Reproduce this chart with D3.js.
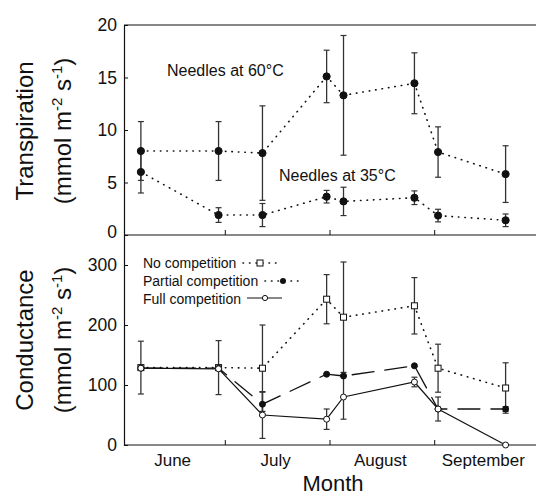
<!DOCTYPE html>
<html>
<head>
<meta charset="utf-8">
<script src="https://cdn.jsdelivr.net/npm/d3@7"></script>
<style>
  body { margin: 0; background: #fff; }
  text { font-family: "Liberation Sans", Arial, sans-serif; fill: #111; }
</style>
</head>
<body>
<div id="chart"></div>
<script>
// sampling dates (2000 used only as a dummy year)
var sampleDates = ["2000-06-06", "2000-06-29", "2000-07-12", "2000-07-31", "2000-08-05", "2000-08-26", "2000-09-02", "2000-09-22"];
var monthNames = ["June", "July", "August", "September"];
var monthStarts = ["2000-06-01", "2000-07-01", "2000-08-01", "2000-09-01", "2000-10-01"];

// transpiration (top panel)
var trans60 = [8.0, 8.0, 7.8, 15.1, 13.3, 14.45, 7.9, 5.8];
var trans60Err = [2.8, 2.8, 4.5, 2.5, 5.7, 2.9, 2.4, 2.7];
var trans35 = [6.0, 1.9, 1.9, 3.65, 3.2, 3.55, 1.85, 1.4];
var trans35Err = [2.0, 0.7, 1.1, 0.6, 1.35, 0.65, 0.6, 0.6];
var transTicks = [0, 5, 10, 15, 20];

// conductance (bottom panel)
var condNone = [129, 129, 128, 243, 213, 232, 128, 95];
var condNoneErr = [44, 45, 72, 41, 92, 47, 40, 42];
var condPartial = [128, 128, 68, 118, 115, 132, 60, 60];
var condPartialErr = [0, 0, 20, 0, 0, 0, 20, 4];
var condFull = [128, 127, 50, 43, 80, 105, 60, 0];
var condFullErr = [0, 0, 39, 17, 37, 8, 0, 0];
var condTicks = [0, 100, 200, 300];

var W = 536, H = 499;
var left = 124, right = 536;
var topY = 25, midY = 235, botY = 445;

var parse = d3.timeParse("%Y-%m-%d");
var dates = sampleDates.map(parse);

var svg = d3.select("#chart").append("svg")
  .attr("width", W)
  .attr("height", H);

var x = d3.scaleTime()
  .domain([parse(monthStarts[0]), parse(monthStarts[4])])
  .range([left, right]);
var yT = d3.scaleLinear().domain([0, 20]).range([midY, topY]);
var yC = d3.scaleLinear().domain([0, 350]).range([botY, midY]);

// frame lines
[topY, midY, botY].forEach(function(yy) {
  svg.append("line").attr("x1", left).attr("x2", right).attr("y1", yy).attr("y2", yy)
    .attr("stroke", "#111").attr("stroke-width", 1.2);
});

// y axes
function yAxis(scale, ticks) {
  var g = svg.append("g")
    .attr("transform", `translate(${left},0)`)
    .call(d3.axisLeft(scale).tickValues(ticks).tickSizeInner(-4).tickSizeOuter(0).tickPadding(7));
  g.select(".domain").attr("stroke", "#111").attr("stroke-width", 1.2);
  g.selectAll(".tick line").attr("stroke", "#111");
  g.selectAll(".tick text").style("font-size", "17.5px").attr("fill", "#111");
  return g;
}
var gT = yAxis(yT, transTicks);
gT.selectAll(".tick text").filter(d => d === 0).attr("dy", "0.15em");
yAxis(yC, condTicks);

// month ticks on both panels
var boundaries = monthStarts.slice(1, 4).map(parse);
[midY, botY].forEach(function(base) {
  svg.selectAll(null).data(boundaries).enter().append("line")
    .attr("x1", d => x(d)).attr("x2", d => x(d))
    .attr("y1", base).attr("y2", base - 5)
    .attr("stroke", "#111");
});

// month labels
var monthMids = monthNames.map(function(m, i) {
  var a = parse(monthStarts[i]), b = parse(monthStarts[i + 1]);
  return new Date((a.getTime() + b.getTime()) / 2);
});
svg.selectAll("text.month").data(monthNames).enter().append("text")
  .attr("class", "month")
  .attr("x", (d, i) => x(monthMids[i]) - 2)
  .attr("y", 466)
  .attr("text-anchor", "middle")
  .style("font-size", "17px")
  .text(d => d);

svg.append("text")
  .attr("x", 333).attr("y", 491)
  .attr("text-anchor", "middle")
  .style("font-size", "22px")
  .text("Month");

// axis titles
function yTitle(cy, name) {
  svg.append("text")
    .attr("transform", `translate(33,${cy}) rotate(-90)`)
    .attr("text-anchor", "middle")
    .style("font-size", "24px")
    .text(name);
  var u = svg.append("text")
    .attr("transform", `translate(71,${cy}) rotate(-90)`)
    .attr("text-anchor", "middle")
    .style("font-size", "24px");
  u.append("tspan").text("(mmol m");
  u.append("tspan").attr("dy", -9).style("font-size", "15px").text("-2");
  u.append("tspan").attr("dy", 9).text(" s");
  u.append("tspan").attr("dy", -9).style("font-size", "15px").text("-1");
  u.append("tspan").attr("dy", 9).text(")");
}
yTitle(131, "Transpiration");
yTitle(340, "Conductance");

// series drawing
function errorBars(vals, errs, y, color) {
  var g = svg.append("g");
  vals.forEach(function(v, i) {
    if (!errs[i]) return;
    var cx = x(dates[i]);
    var y1 = y(v + errs[i]), y2 = y(Math.max(0, v - errs[i]));
    g.append("line").attr("x1", cx).attr("x2", cx).attr("y1", y1).attr("y2", y2)
      .attr("stroke", color).attr("stroke-width", 1.3);
    [y1, y2].forEach(function(yy) {
      g.append("line").attr("x1", cx - 3).attr("x2", cx + 3).attr("y1", yy).attr("y2", yy)
        .attr("stroke", color).attr("stroke-width", 1.2);
    });
  });
}
function seriesLine(vals, y, dash, width) {
  var line = d3.line().x((d, i) => x(dates[i])).y(d => y(d));
  svg.append("path").datum(vals)
    .attr("d", line)
    .attr("fill", "none")
    .attr("stroke", "#111")
    .attr("stroke-width", width)
    .attr("stroke-linecap", "round")
    .attr("stroke-dasharray", dash);
}
function dots(vals, y, r, fill) {
  svg.selectAll(null).data(vals).enter().append("circle")
    .attr("cx", (d, i) => x(dates[i]))
    .attr("cy", d => y(d))
    .attr("r", r)
    .attr("fill", fill)
    .attr("stroke", "#111")
    .attr("stroke-width", 1);
}
function squares(vals, y, s) {
  svg.selectAll(null).data(vals).enter().append("rect")
    .attr("x", (d, i) => x(dates[i]) - s / 2)
    .attr("y", d => y(d) - s / 2)
    .attr("width", s).attr("height", s)
    .attr("fill", "#fff")
    .attr("stroke", "#111")
    .attr("stroke-width", 1);
}

// top panel
errorBars(trans60, trans60Err, yT, "#333");
errorBars(trans35, trans35Err, yT, "#333");
seriesLine(trans60, yT, "0.5,6", 1.6);
seriesLine(trans35, yT, "0.5,6", 1.6);
dots(trans60, yT, 3.6, "#111");
dots(trans35, yT, 3.6, "#111");

svg.append("text").attr("x", 167).attr("y", 76).style("font-size", "16px").text("Needles at 60°C");
svg.append("text").attr("x", 279).attr("y", 181).style("font-size", "16px").text("Needles at 35°C");

// bottom panel
errorBars(condNone, condNoneErr, yC, "#333");
errorBars(condPartial, condPartialErr, yC, "#333");
errorBars(condFull, condFullErr, yC, "#333");
seriesLine(condNone, yC, "0.5,6", 1.6);
seriesLine(condPartial, yC, "22,11", 1.3);
seriesLine(condFull, yC, null, 1.2);
squares(condNone, yC, 6);
dots(condPartial, yC, 3, "#111");
dots(condFull, yC, 3, "#fff");

// legend
var legend = [
  {label: "No competition", y: 263},
  {label: "Partial competition", y: 281},
  {label: "Full competition", y: 299}
];
svg.selectAll("text.leg").data(legend).enter().append("text")
  .attr("class", "leg")
  .attr("x", 143).attr("y", d => d.y + 5)
  .style("font-size", "14px")
  .text(d => d.label);
// no competition key
svg.append("line").attr("x1", 243).attr("x2", 276).attr("y1", 263).attr("y2", 263)
  .attr("stroke", "#111").attr("stroke-width", 1.6).attr("stroke-linecap", "round").attr("stroke-dasharray", "0.5,6");
svg.append("rect").attr("x", 257).attr("y", 260).attr("width", 6).attr("height", 6)
  .attr("fill", "#fff").attr("stroke", "#111");
// partial competition key
svg.append("line").attr("x1", 265).attr("x2", 298).attr("y1", 281).attr("y2", 281)
  .attr("stroke", "#111").attr("stroke-width", 1.6).attr("stroke-linecap", "round").attr("stroke-dasharray", "0.5,6");
svg.append("circle").attr("cx", 283).attr("cy", 281).attr("r", 3).attr("fill", "#111");
// full competition key
svg.append("line").attr("x1", 247).attr("x2", 282).attr("y1", 298).attr("y2", 298)
  .attr("stroke", "#111").attr("stroke-width", 1.2);
svg.append("circle").attr("cx", 265).attr("cy", 298).attr("r", 2.6).attr("fill", "#fff").attr("stroke", "#111");
</script>
</body>
</html>
